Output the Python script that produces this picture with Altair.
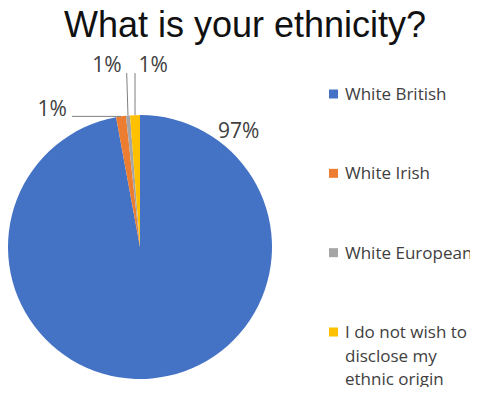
import altair as alt
import pandas as pd
import numpy as np

# ---- data ----
categories = ["White British", "White Irish", "White European",
              "I do not wish to disclose my ethnic origin"]
values = [97.1, 1.2, 0.5, 1.2]
pct_labels = ["97%", "1%", "1%", "1%"]
legend_labels = ["White British", "White Irish", "White European",
                 "I do not wish to\ndisclose my\nethnic origin"]
colors = ["#4472C4", "#ED7D31", "#A5A5A5", "#FFC000"]
title_text = "What is your ethnicity?"

# ---- styling / geometry ----
R = 132
SIZE = 2 * R
# leader offset from slice edge, text offset from leader end, text align, draw leader
label_style = {
    "White British": dict(leader=(0, 0), text=(66, -240), align="left", line=False),
    "White Irish": dict(leader=(-49, 0), text=(-5, 0), align="right", line=True),
    "White European": dict(leader=(-1.3, -42.5), text=(-5, -1), align="right", line=True),
    "I do not wish to disclose my ethnic origin": dict(leader=(0, -42), text=(3.5, -1), align="left", line=True),
}

total = float(sum(values))
starts = np.concatenate([[0.0], np.cumsum(values)[:-1]])
mids = 2 * np.pi * (starts + np.array(values) / 2) / total

rows = []
for i, c in enumerate(categories):
    st = label_style[c]
    ax = R + R * np.sin(mids[i])
    ay = R - R * np.cos(mids[i])
    lx = ax + st["leader"][0]
    ly = ay + st["leader"][1]
    rows.append(dict(category=c, idx=i, value=values[i], pct=pct_labels[i],
                     legend=legend_labels[i], ax=ax, ay=ay, lx=lx, ly=ly,
                     tx=lx + st["text"][0], ty=ly + st["text"][1],
                     align=st["align"], line=st["line"]))
df = pd.DataFrame(rows)

color_scale = alt.Scale(domain=categories, range=colors)
legend_y = alt.Scale(domain=categories, range=[-21, 217], padding=0)

base = alt.Chart(df)

pie = base.mark_arc(outerRadius=R).encode(
    theta=alt.Theta("value:Q", stack=True),
    color=alt.Color("category:N", scale=color_scale, legend=None),
    order=alt.Order("idx:Q"),
)

leaders = alt.Chart(df[df["line"]]).mark_rule(color="#7F7F7F", strokeWidth=1).encode(
    x=alt.X("ax:Q", scale=None, axis=None),
    y=alt.Y("ay:Q", scale=None, axis=None),
    x2="lx:Q",
    y2="ly:Q",
)

def pct_text(align):
    return alt.Chart(df[df["align"] == align]).mark_text(
        align=align, baseline="alphabetic", font="Open Sans", fontSize=21, color="#404040"
    ).encode(
        x=alt.X("tx:Q", scale=None, axis=None),
        y=alt.Y("ty:Q", scale=None, axis=None),
        text="pct:N",
    )

leg_sq = base.mark_square(size=81, filled=True, opacity=1).encode(
    x=alt.value(325.5),
    y=alt.Y("category:N", scale=legend_y, axis=None),
    color=alt.Color("category:N", scale=color_scale, legend=None),
)

leg_txt = base.mark_text(
    align="left", baseline="alphabetic", dy=6, lineBreak="\n", lineHeight=23.5,
    font="Open Sans", fontSize=17, color="#404040"
).encode(
    x=alt.value(337),
    y=alt.Y("category:N", scale=legend_y, axis=None),
    text="legend:N",
)

chart = alt.layer(pie, leaders, pct_text("left"), pct_text("right"), leg_sq, leg_txt).resolve_scale(
    x="independent", y="independent"
).properties(
    width=SIZE, height=SIZE,
    title=alt.TitleParams(title_text, font="Liberation Sans", fontSize=36, fontWeight="normal",
                          color="#111111", anchor="middle", frame="group", dx=105,
                          baseline="alphabetic", offset=-18),
    padding={"left": 0, "top": 107, "right": 198, "bottom": 8},
    autosize=alt.AutoSizeParams(type="none"),
).configure_view(stroke=None)

chart.save("out.html", embed_options={"renderer": "svg", "actions": False})
